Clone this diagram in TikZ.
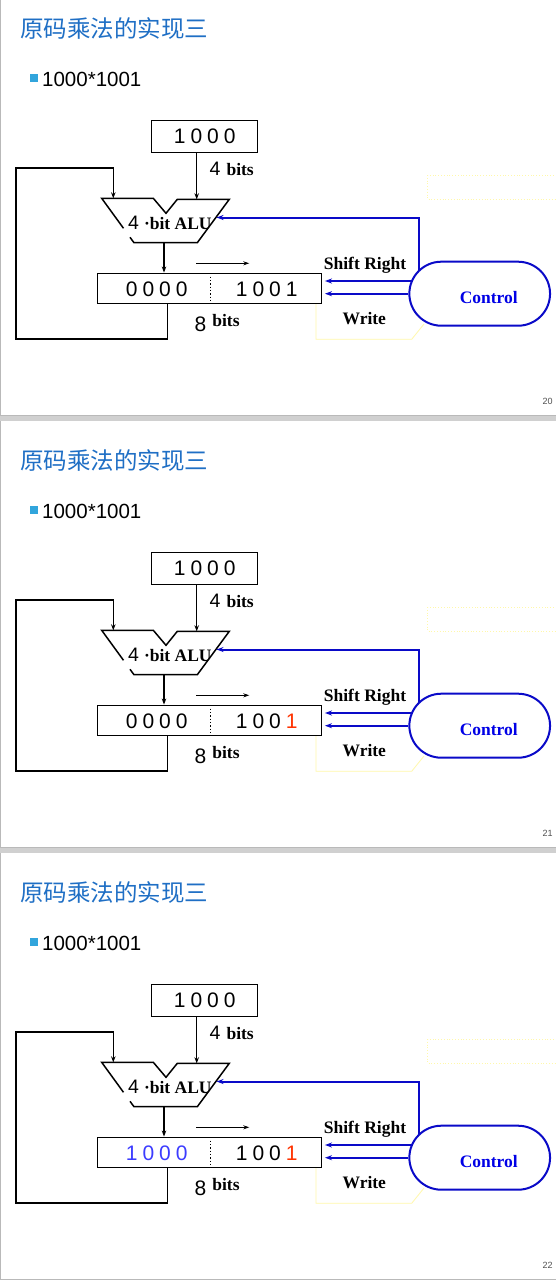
\documentclass[tikz,border=0pt]{standalone}
\usepackage{fontspec}
\setmainfont{Liberation Serif}
\newfontfamily\sansf{Liberation Sans}
\newfontfamily\cjkf{Noto Sans CJK SC}
\usetikzlibrary{arrows.meta,calc}
\definecolor{titleblue}{RGB}{31,111,197}
\definecolor{bulletblue}{RGB}{50,165,220}
\definecolor{lineblue}{RGB}{10,10,200}
\definecolor{ctrlblue}{RGB}{0,0,230}
\definecolor{hiblue}{RGB}{60,60,255}
\definecolor{lored}{RGB}{255,51,0}
\definecolor{faintyellow}{RGB}{255,248,170}
\definecolor{bandgray}{RGB}{208,208,208}
\definecolor{edgegray}{RGB}{185,185,185}
\definecolor{numgray}{RGB}{80,80,80}
\newcommand\spdig[4]{#1\hspace{5pt}#2\hspace{5pt}#3\hspace{5pt}#4}
\begin{document}
\begin{tikzpicture}[x=1pt,y=-1pt,
  blk/.style={draw=black,line width=1.5pt},
  arr/.style={line width=1.4pt,-{Stealth[length=6pt,width=4.5pt]}},
  barr/.style={draw=lineblue,line width=2pt,-{Stealth[length=7pt,width=5pt]}},
  lbl/.style={font=\fontsize{17.5}{20}\selectfont\bfseries,inner sep=0pt},
  digits/.style={font=\sansf\fontsize{21}{24}\selectfont,inner sep=0pt},
  faint/.style={draw=faintyellow,line width=0.8pt}]
\useasboundingbox (0,0) rectangle (556,1280);
\fill[bandgray] (0,0) rectangle (556,1280);
\foreach \kk/\snum/\hiv/\hcol/\lcol in {0/20/0000/black/black,1/21/0000/black/lored,2/22/1000/hiblue/lored}{
 \begin{scope}[yshift=-432pt*\kk]
  % slide frame
  \fill[white] (1.3,-11) rectangle (556,415);
  \fill[edgegray] (0,-11) rectangle (1.3,415.5);
  \draw[edgegray,line width=1pt] (0,415.5) -- (556,415.5);
  % title and bullet
  \node[anchor=west,inner sep=0,text=titleblue,font=\cjkf\fontsize{23.5}{26}\selectfont] (title\kk) at (20,29) {原码乘法的实现三};
  \node[fill=bulletblue,minimum size=8pt,inner sep=0] (bul\kk) at (34,78) {};
  \node[anchor=base west,inner sep=0,font=\sansf\fontsize{20.5}{24}\selectfont] (bt\kk) at (42,86) {1000*1001};
  % faint yellow outlines
  \draw[faint,dotted,line width=1pt] (427.7,175) rectangle (556,199.3);
  \draw[faint] (316,304) -- (316,339.3) -- (411.7,339.3) -- (424,324);
  % boxes
  \node[blk,minimum width=106pt,minimum height=31.6pt,inner sep=0,digits] (top\kk) at (204.7,136.5) {\spdig1000};
  \node[blk,minimum width=224.4pt,minimum height=30pt,inner sep=0] (reg\kk) at (209.5,288.3) {};
  \node[digits] (hi\kk) at (156.7,289) {\textcolor{\hcol}{\expandafter\spdig\hiv}};
  \node[digits] (lo\kk) at (266.7,289) {\spdig100{\textcolor{\lcol}{1}}};
  \draw[line width=1.3pt,dotted] (210.7,276.7) -- (210.7,300);
  % ALU
  \coordinate (aluA\kk) at (113.3,198.3);
  \coordinate (aluB\kk) at (196.7,199.3);
  \coordinate (aluO\kk) at (164,242.7);
  \coordinate (aluR\kk) at (216.5,217.5);
  \draw[line width=1.5pt,line join=miter] (130,237.3) -- (134,242.7) -- (197.3,242.7) -- (229.3,199.3) -- (177.3,199.3) -- (166,213.3) -- (153.3,198.3) -- (101.7,198.3) -- (123.5,228.3);
  \node[anchor=base west,lbl] (alul\kk) at (128,229.5) {{\sansf\mdseries\fontsize{19.5}{20}\selectfont 4}\hspace{5pt}·bit ALU};
  % control
  \node[draw=lineblue,line width=2pt,rounded corners=32pt,minimum width=140.7pt,minimum height=64pt,inner sep=0] (ctrl\kk) at (479.7,293.7) {};
  \node[lbl,text=ctrlblue,anchor=base] (ctrlt\kk) at (488.8,303.3) {Control};
  % labels
  \node[lbl,anchor=base west] (fb\kk) at (209.5,175.5) {{\sansf\mdseries\fontsize{19.5}{20}\selectfont 4}\hspace{6pt}bits};
  \node[lbl,anchor=base west] (eb\kk) at (194.5,326) {{\sansf\mdseries\fontsize{21}{24}\selectfont\raisebox{-5.7pt}{8}}\hspace{6pt}bits};
  \node[lbl,anchor=base] (srl\kk) at (365,269) {Shift Right};
  \node[lbl,anchor=base] (wl\kk) at (364.3,324) {Write};
  \node[font=\sansf\fontsize{9}{10}\selectfont,text=numgray,inner sep=0] (num\kk) at (547.5,401) {\snum};
  % black connectors
  \coordinate (loopS\kk) at (167.3,304);
  \coordinate (loopBL\kk) at (16,339);
  \coordinate (loopTL\kk) at (16,168);
  \draw[arr] (top\kk.south -| aluB\kk) -- (aluB\kk);
  \draw[arr] (loopS\kk) |- (loopBL\kk) -- (loopTL\kk) -| (aluA\kk);
  \draw[arr] (aluO\kk) -- (aluO\kk |- reg\kk.north);
  \coordinate (sh1\kk) at (196,263.3);
  \coordinate (sh2\kk) at (249.3,263.3);
  \draw[line width=1.3pt,-{Stealth[length=6pt,width=4pt]}] (sh1\kk) -- (sh2\kk);
  % blue connectors
  \coordinate (regE\kk) at ([xshift=2.5pt]reg\kk.east);
  \coordinate (srS\kk) at ([shift={(2.6pt,12.7pt)}]ctrl\kk.west);
  \coordinate (cTop\kk) at (419,270.7);
  \draw[barr] (srS\kk) -- (srS\kk -| regE\kk);
  \draw[barr] (ctrl\kk.west) -- (ctrl\kk.west -| regE\kk);
  \draw[barr] (cTop\kk) |- (aluR\kk);
 \end{scope}
}
\end{tikzpicture}
\end{document}
